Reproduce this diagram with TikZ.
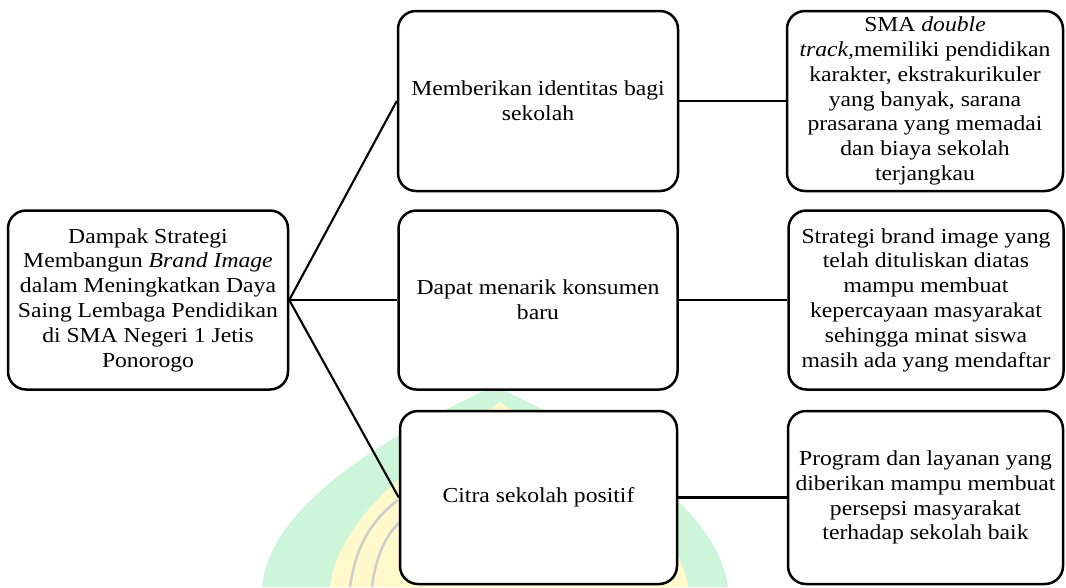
\documentclass[tikz,border=0pt]{standalone}
\usepackage{fontspec}
\setmainfont[FakeStretch=1.11]{Liberation Serif}
\definecolor{wmgreen}{RGB}{204,245,217}
\definecolor{wmyellow}{RGB}{255,249,204}
\definecolor{wmgray}{RGB}{205,205,205}
\tikzset{
  box/.style={draw=black, line width=2.5pt, rounded corners=18pt, fill=white,
    align=center, inner sep=0pt, minimum width=278, minimum height=179,
    font=\fontsize{21.3}{24.8}\selectfont},
  link/.style={draw=black, line width=2.1pt}
}
\begin{document}
\begin{tikzpicture}[x=1pt,y=-1pt]
\useasboundingbox (0,0) rectangle (1066,587);
\fill[white] (0,0) rectangle (1066,587);
% faint watermark
\fill[wmgreen] (262,587) .. controls (270,500) and (400,430) .. (494,386)
  .. controls (588,430) and (716,500) .. (728,587) -- cycle;
\fill[wmyellow] (330,587) .. controls (338,515) and (425,455) .. (500,402)
  .. controls (575,455) and (680,520) .. (688,587) -- cycle;
\draw[wmgray, line width=2.5pt] (350,587) .. controls (356,545) and (372,520) .. (398,500);
\draw[wmgray, line width=2.5pt] (372,587) .. controls (376,555) and (386,535) .. (400,522);
% boxes
\node[box, minimum width=280] (L) at (148,300) {Dampak Strategi\\Membangun \textit{Brand Image}\\dalam Meningkatkan Daya\\Saing Lembaga Pendidikan\\di SMA Negeri 1 Jetis\\Ponorogo};
\node[box, minimum width=280, minimum height=180] (M1) at (538,101) {Memberikan identitas bagi\\sekolah};
\node[box, minimum width=279] (M2) at (538,300) {Dapat menarik konsumen\\baru};
\node[box, minimum width=277, minimum height=173] (M3) at (538.5,497.5) {Citra sekolah positif};
\node[box, minimum width=276, minimum height=180] (R1) at (925,101) {SMA \textit{double}\\\textit{track,}memiliki pendidikan\\karakter, ekstrakurikuler\\yang banyak, sarana\\prasarana yang memadai\\dan biaya sekolah\\terjangkau};
\node[box, minimum width=275] (R2) at (926,300) {Strategi brand image yang\\telah dituliskan diatas\\mampu membuat\\kepercayaan masyarakat\\sehingga minat siswa\\masih ada yang mendaftar};
\node[box, minimum width=275, minimum height=173] (R3) at (925.5,497.5) {Program dan layanan yang\\diberikan mampu membuat\\persepsi masyarakat\\terhadap sekolah baik};
% connectors
\draw[link] (L.east) -- (M1.west);
\draw[link] (L.east) -- (M2.west);
\draw[link] (L.east) -- (M3.west);
\draw[link] (M1.east) -- (R1.west);
\draw[link] (M2.east) -- (R2.west);
\draw[link] (M3.east) -- (R3.west);
\end{tikzpicture}
\end{document}
